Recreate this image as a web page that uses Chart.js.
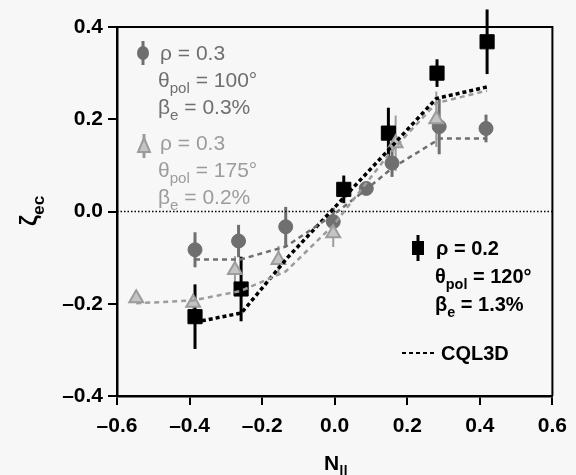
<!DOCTYPE html>
<html>
<head>
<meta charset="utf-8">
<script src="https://cdn.jsdelivr.net/npm/chart.js@4.4.0/dist/chart.umd.min.js"></script>
<style>
  html, body { margin: 0; padding: 0; background: #f7f7f7; }
  #wrap { width: 576px; height: 475px; }
</style>
</head>
<body>
<div id="wrap"><canvas id="chart" width="576" height="475"></canvas></div>
<script>
// measured points: rho = 0.2, theta_pol = 120 (black squares)
const sqX = [-0.385, -0.258, 0.025, 0.148, 0.282, 0.42];
const sqY = [-0.228, -0.168, 0.048, 0.17, 0.30, 0.368];
const sqErr = [0.07, 0.07, 0.03, 0.055, 0.03, 0.07];

// rho = 0.3, theta_pol = 100 (grey circles)
const ciX = [-0.385, -0.265, -0.135, -0.004, 0.087, 0.158, 0.288, 0.417];
const ciY = [-0.083, -0.064, -0.033, -0.022, 0.05, 0.105, 0.184, 0.18];
const ciErr = [0.038, 0.035, 0.043, 0.03, 0.012, 0.03, 0.06, 0.03];

// rho = 0.3, theta_pol = 175 (light triangles)
const trX = [-0.547, -0.39, -0.275, -0.155, -0.004, 0.168, 0.28];
const trY = [-0.188, -0.198, -0.127, -0.105, -0.047, 0.148, 0.20];
const trErr = [0.005, 0.02, 0.03, 0.03, 0.03, 0.06, 0.06];

// CQL3D model curves
const cqlSqX = [-0.385, -0.257, -0.13, 0.025, 0.15, 0.28, 0.42];
const cqlSqY = [-0.24, -0.22, -0.10, 0.03, 0.135, 0.245, 0.27];
const cqlCiX = [-0.385, -0.26, -0.135, 0.0, 0.087, 0.16, 0.29, 0.42];
const cqlCiY = [-0.104, -0.104, -0.076, -0.005, 0.048, 0.095, 0.158, 0.158];
const cqlTrX = [-0.547, -0.39, -0.258, -0.135, -0.004, 0.15, 0.28, 0.42];
const cqlTrY = [-0.199, -0.193, -0.172, -0.13, -0.03, 0.125, 0.235, 0.262];

const xTicks = [-0.6, -0.4, -0.2, 0.0, 0.2, 0.4, 0.6];
const yTicks = [-0.4, -0.2, 0.0, 0.2, 0.4];

const FONT = '"Liberation Sans", Arial, sans-serif';
const DARK = '#6f6f6f';
const LIGHT = '#9c9c9c';

const pts = (xs, ys) => xs.map((x, i) => ({ x: x, y: ys[i] }));
const fmt = v => {
    const r = Math.round(v * 10) / 10;
    return (r < 0 ? '\u2013' : '') + Math.abs(r).toFixed(1);
};

function drawRich(ctx, x, y, parts, size, weight, color) {
    let cx = x;
    ctx.fillStyle = color;
    ctx.textBaseline = 'alphabetic';
    ctx.textAlign = 'left';
    parts.forEach(p => {
        const fs = p[1] ? size * 0.72 : size;
        ctx.font = weight + ' ' + fs + 'px ' + FONT;
        ctx.fillText(p[0], cx, y + (p[1] ? size * 0.3 : 0));
        cx += ctx.measureText(p[0]).width;
    });
}

function icon(ctx, style, x, y, color, bar) {
    ctx.save();
    ctx.strokeStyle = color;
    ctx.fillStyle = color;
    ctx.lineWidth = 3;
    ctx.beginPath();
    ctx.moveTo(x, y - bar);
    ctx.lineTo(x, y + bar);
    ctx.stroke();
    ctx.beginPath();
    if (style === 'circle') {
        ctx.ellipse(x, y, 6, 7, 0, 0, Math.PI * 2);
        ctx.fill();
    } else if (style === 'triangle') {
        ctx.fillStyle = '#c4c4c4';
        ctx.lineWidth = 2;
        ctx.moveTo(x, y - 8);
        ctx.lineTo(x + 6, y + 6);
        ctx.lineTo(x - 6, y + 6);
        ctx.closePath();
        ctx.fill();
        ctx.stroke();
    } else {
        ctx.fillRect(x - 6, y - 7, 12, 14);
    }
    ctx.restore();
}

const errorBars = {
    id: 'errorBars',
    beforeDatasetsDraw(chart) {
        const ctx = chart.ctx;
        const xs = chart.scales.x, ys = chart.scales.y;
        const sets = [
            [trX, trY, trErr, LIGHT, 2],
            [ciX, ciY, ciErr, DARK, 3],
            [sqX, sqY, sqErr, '#000', 3]
        ];
        ctx.save();
        sets.forEach(s => {
            ctx.strokeStyle = s[3];
            ctx.lineWidth = s[4];
            s[0].forEach((x, i) => {
                const px = xs.getPixelForValue(x);
                ctx.beginPath();
                ctx.moveTo(px, ys.getPixelForValue(s[1][i] + s[2][i]));
                ctx.lineTo(px, ys.getPixelForValue(s[1][i] - s[2][i]));
                ctx.stroke();
            });
        });
        // dotted zero line
        const y0 = ys.getPixelForValue(0);
        ctx.strokeStyle = '#000';
        ctx.lineWidth = 1.5;
        ctx.setLineDash([1.5, 2]);
        ctx.beginPath();
        ctx.moveTo(chart.chartArea.left, y0);
        ctx.lineTo(chart.chartArea.right, y0);
        ctx.stroke();
        ctx.restore();
    },
    afterDraw(chart) {
        const ctx = chart.ctx;
        const a = chart.chartArea;
        ctx.save();
        ctx.strokeStyle = '#000';
        ctx.lineWidth = 2;
        ctx.beginPath();
        ctx.moveTo(a.left, a.top);
        ctx.lineTo(a.right, a.top);
        ctx.lineTo(a.right, a.bottom);
        ctx.stroke();

        // legends
        icon(ctx, 'circle', 143, 53, DARK, 12);
        drawRich(ctx, 160, 60, [['\u03c1 = 0.3', 0]], 21, 'normal', DARK);
        drawRich(ctx, 158, 87, [['\u03b8', 0], ['pol', 1], [' = 100\u00b0', 0]], 21, 'normal', DARK);
        drawRich(ctx, 158, 114, [['\u03b2', 0], ['e', 1], [' = 0.3%', 0]], 21, 'normal', DARK);

        icon(ctx, 'triangle', 144, 146, LIGHT, 12);
        drawRich(ctx, 160, 150, [['\u03c1 = 0.3', 0]], 21, 'normal', LIGHT);
        drawRich(ctx, 158, 177, [['\u03b8', 0], ['pol', 1], [' = 175\u00b0', 0]], 21, 'normal', LIGHT);
        drawRich(ctx, 158, 204, [['\u03b2', 0], ['e', 1], [' = 0.2%', 0]], 21, 'normal', LIGHT);

        icon(ctx, 'square', 418, 248, '#000', 13);
        drawRich(ctx, 436, 255, [['\u03c1 = 0.2', 0]], 20, 'bold', '#000');
        drawRich(ctx, 435, 283, [['\u03b8', 0], ['pol', 1], [' = 120\u00b0', 0]], 20, 'bold', '#000');
        drawRich(ctx, 435, 311, [['\u03b2', 0], ['e', 1], [' = 1.3%', 0]], 20, 'bold', '#000');

        ctx.strokeStyle = '#000';
        ctx.lineWidth = 2;
        ctx.setLineDash([4, 3]);
        ctx.beginPath();
        ctx.moveTo(402, 353);
        ctx.lineTo(436, 353);
        ctx.stroke();
        ctx.setLineDash([]);
        drawRich(ctx, 441, 360, [['CQL3D', 0]], 20, 'bold', '#000');

        // axis titles
        drawRich(ctx, 324, 470, [['N', 0], ['||', 1]], 21, 'bold', '#000');
        ctx.translate(37, 226);
        ctx.rotate(-Math.PI / 2);
        drawRich(ctx, 0, 0, [['\u03b6', 0], ['ec', 1]], 24, 'bold', '#000');
        ctx.restore();
    }
};

const tickFont = { family: FONT, size: 21, weight: 'bold' };

new Chart(document.getElementById('chart'), {
    type: 'scatter',
    data: {
        datasets: [
            { data: pts(cqlTrX, cqlTrY), showLine: true, borderColor: LIGHT, borderWidth: 2.5,
              borderDash: [5, 4], pointRadius: 0 },
            { data: pts(cqlCiX, cqlCiY), showLine: true, borderColor: DARK, borderWidth: 2.5,
              borderDash: [5, 4], pointRadius: 0 },
            { data: pts(cqlSqX, cqlSqY), showLine: true, borderColor: '#000', borderWidth: 3.5,
              borderDash: [4, 3], pointRadius: 0 },
            { data: pts(trX, trY), pointStyle: 'triangle', pointRadius: 8,
              backgroundColor: '#c4c4c4', borderColor: LIGHT, borderWidth: 2 },
            { data: pts(ciX, ciY), pointStyle: 'circle', pointRadius: 7,
              backgroundColor: DARK, borderColor: DARK, borderWidth: 1 },
            { data: pts(sqX, sqY), pointStyle: 'rect', pointRadius: 10,
              backgroundColor: '#000', borderColor: '#000', borderWidth: 1 }
        ]
    },
    options: {
        responsive: false,
        animation: false,
        layout: { padding: { left: 0, right: 17, top: 27, bottom: 0 } },
        plugins: { legend: { display: false }, tooltip: { enabled: false } },
        scales: {
            x: {
                min: -0.6, max: 0.6,
                afterBuildTicks: s => { s.ticks = xTicks.map(v => ({ value: v })); },
                afterFit: s => { s.height = 79; },
                ticks: { callback: fmt, font: tickFont, color: '#000', padding: 9, maxRotation: 0 },
                grid: { drawOnChartArea: false, drawTicks: true, tickLength: 9, color: '#000', lineWidth: 2 },
                border: { color: '#000', width: 2.5 }
            },
            y: {
                min: -0.4, max: 0.4,
                afterBuildTicks: s => { s.ticks = yTicks.map(v => ({ value: v })); },
                afterFit: s => { s.width = 117; },
                ticks: { callback: fmt, font: tickFont, color: '#000', padding: 5 },
                grid: { drawOnChartArea: false, drawTicks: true, tickLength: 9, color: '#000', lineWidth: 2 },
                border: { color: '#000', width: 2.5 }
            }
        }
    },
    plugins: [errorBars]
});
</script>
</body>
</html>
